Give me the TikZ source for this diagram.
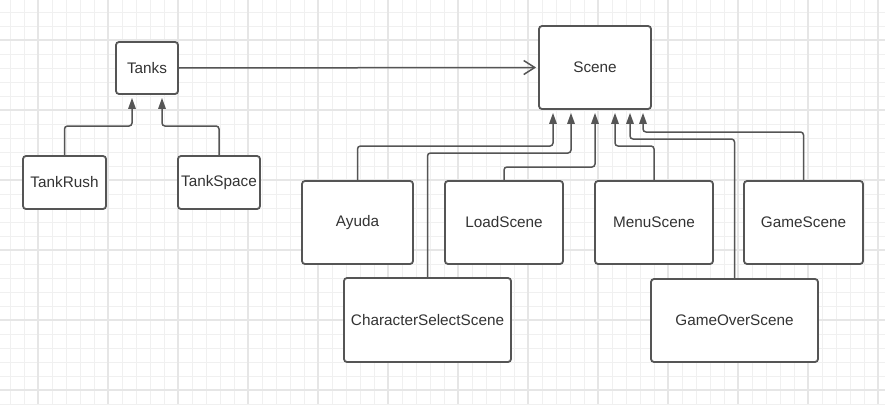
\documentclass[tikz,border=0pt]{standalone}
\usepackage{fontspec}
\setmainfont{Liberation Sans}
\usetikzlibrary{arrows.meta}
\definecolor{edgecol}{RGB}{85,85,85}
\definecolor{textcol}{RGB}{51,51,51}
\definecolor{gridminor}{RGB}{240,240,240}
\definecolor{gridmajor}{RGB}{230,230,230}
\tikzset{
  box/.style={draw=edgecol, line width=1.8pt, rounded corners=3pt, fill=white,
    text=textcol, font=\fontsize{15.3}{18}\selectfont, inner sep=0pt},
  inh/.style={draw=edgecol, line width=1.5pt, rounded corners=3pt,
    -{Triangle[length=11pt,width=7.5pt]}, shorten >=3pt},
  assoc/.style={draw=edgecol, line width=1.5pt, -{Straight Barb[length=11pt,width=14pt,line width=1.5pt]}},
  gmin/.style={draw=gridminor, line width=0.7pt},
  gmaj/.style={draw=gridmajor, line width=1.1pt}
}
\begin{document}
\begin{tikzpicture}[x=1pt,y=-1pt]
\useasboundingbox (0,0) rectangle (885,404);
\fill[white] (0,0) rectangle (885,404);
% grid
\foreach \i in {0,...,62} {
  \draw[gmin] ({10+14*\i},0) -- ({10+14*\i},404);
}
\foreach \i in {0,...,28} {
  \draw[gmin] (0,{12+14*\i}) -- (885,{12+14*\i});
}
\foreach \i in {0,...,12} {
  \draw[gmaj] ({38+70*\i},0) -- ({38+70*\i},404);
}
\foreach \i in {0,...,5} {
  \draw[gmaj] (0,{40+70*\i}) -- (885,{40+70*\i});
}
% nodes
\node[box, minimum width=62pt, minimum height=52pt] (tanks) at (147,68) {Tanks};
\node[box, minimum width=83pt, minimum height=53pt] (rush) at (64.5,182.5) {TankRush};
\node[box, minimum width=82pt, minimum height=53pt] (space) at (219,182.5) {TankSpace};
\node[box, minimum width=112pt, minimum height=83pt] (scene) at (595,67.5) {Scene};
\node[box, minimum width=111pt, minimum height=83pt] (ayuda) at (357.5,222.5) {Ayuda};
\node[box, minimum width=118pt, minimum height=83pt] (load) at (504,222.5) {LoadScene};
\node[box, minimum width=118pt, minimum height=83pt] (menu) at (654,222.5) {MenuScene};
\node[box, minimum width=119pt, minimum height=83pt] (game) at (803.5,222.5) {GameScene};
\node[box, minimum width=167pt, minimum height=84pt] (charsel) at (427.5,320) {CharacterSelectScene};
\node[box, minimum width=167pt, minimum height=83pt] (over) at (734.5,320.5) {GameOverScene};
% target coordinates
\coordinate (t1) at ([xshift=-15pt]tanks.south);
\coordinate (t2) at ([xshift=15pt]tanks.south);
\coordinate (s1) at ([xshift=-42pt]scene.south);
\coordinate (s2) at ([xshift=-24pt]scene.south);
\coordinate (s3) at (scene.south);
\coordinate (s4) at ([xshift=20pt]scene.south);
\coordinate (s5) at ([xshift=35pt]scene.south);
\coordinate (s6) at ([xshift=48pt]scene.south);
% connectors
\draw[assoc] (tanks.east) -- ([xshift=-2pt]scene.west);
\draw[inh] (rush.north) |- (t1 |- 0,126) -- (t1);
\draw[inh] (space.north) |- (t2 |- 0,126) -- (t2);
\draw[inh] (ayuda.north) |- (s1 |- 0,146) -- (s1);
\draw[inh] (charsel.north) |- (s2 |- 0,153) -- (s2);
\draw[inh] (load.north) |- (s3 |- 0,167) -- (s3);
\draw[inh] (menu.north) |- (s4 |- 0,146) -- (s4);
\draw[inh] (over.north) |- (s5 |- 0,139) -- (s5);
\draw[inh] (game.north) |- (s6 |- 0,132) -- (s6);
\end{tikzpicture}
\end{document}
